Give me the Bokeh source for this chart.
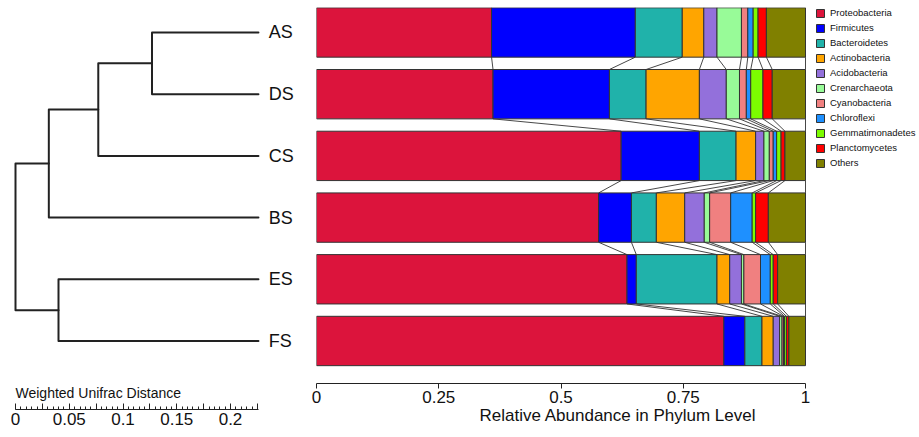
import numpy as np
from bokeh.plotting import figure
from bokeh.layouts import row
from bokeh.models import ColumnDataSource, FixedTicker, Range1d
from bokeh.embed import file_html
from bokeh.resources import INLINE
from bokeh.core.properties import value

# ---------------- data ----------------
samples = ["AS", "DS", "CS", "BS", "ES", "FS"]
phyla = ["Proteobacteria", "Firmicutes", "Bacteroidetes", "Actinobacteria",
         "Acidobacteria", "Crenarchaeota", "Cyanobacteria", "Chloroflexi",
         "Gemmatimonadetes", "Planctomycetes", "Others"]
colors = ["#DC143C", "#0000FF", "#20B2AA", "#FFA500", "#9370DB", "#98FB98",
          "#F08080", "#1E90FF", "#7CFC00", "#FF0000", "#808000"]

AS = [0.358, 0.294, 0.096, 0.044, 0.027, 0.050, 0.013, 0.011, 0.010, 0.017, 0.080]
DS = [0.361, 0.238, 0.075, 0.109, 0.055, 0.027, 0.014, 0.009, 0.025, 0.019, 0.068]
CS = [0.623, 0.160, 0.075, 0.040, 0.017, 0.011, 0.008, 0.007, 0.009, 0.008, 0.042]
BS = [0.577, 0.067, 0.051, 0.058, 0.040, 0.011, 0.043, 0.044, 0.007, 0.026, 0.076]
ES = [0.635, 0.019, 0.165, 0.026, 0.024, 0.005, 0.034, 0.020, 0.006, 0.009, 0.057]
FS = [0.833, 0.043, 0.035, 0.023, 0.013, 0.005, 0.003, 0.002, 0.004, 0.005, 0.034]
abund = [AS, DS, CS, BS, ES, FS]

# dendrogram (positions along the Weighted Unifrac Distance scale)
tree_nodes = ["AD", "ADC", "ADCB", "EF", "root"]
tree_left = ["AS", "AD", "ADC", "ES", "ADCB"]
tree_right = ["DS", "CS", "BS", "FS", "EF"]
tree_pos = [0.127, 0.077, 0.031, 0.040, 0.0]
leaf_pos = 0.226

scale_ticks = [0, 0.05, 0.1, 0.15, 0.2]
scale_labels = ["0", "0.05", "0.1", "0.15", "0.2"]
x_ticks = [0, 0.25, 0.5, 0.75, 1]
x_labels = ["0", "0.25", "0.5", "0.75", "1"]

# ---------------- layout constants ----------------
FONT = "Liberation Sans"
TXT = "#111111"
PX = 61.7          # pixels per row unit
YTOP = 5.405
TOP = 7
sample_y = [len(samples) - 1 - i for i in range(len(samples))]
ypos = dict(zip(samples, sample_y))

# ---------------- dendrogram figure ----------------
DSC = 1075.0
DW, DH = 308, 402
x0 = -15 / DSC
d = figure(frame_width=DW, frame_height=DH,
           x_range=Range1d(x0, x0 + DW / DSC),
           y_range=Range1d(YTOP - DH / PX, YTOP),
           output_backend="svg", toolbar_location=None,
           min_border=0, min_border_top=TOP, y_axis_location=None)
d.xgrid.visible = False
d.ygrid.visible = False
d.outline_line_color = None

xpos = {s: leaf_pos for s in samples}
for n, l, r, xp in zip(tree_nodes, tree_left, tree_right, tree_pos):
    xpos[n] = xp
    ypos[n] = (ypos[l] + ypos[r]) / 2.0
xs, ys = [], []
for n, l, r in zip(tree_nodes, tree_left, tree_right):
    xs.append([xpos[l], xpos[n], xpos[n], xpos[r]])
    ys.append([ypos[l], ypos[l], ypos[r], ypos[r]])
d.multi_line(xs=xs, ys=ys, line_color="#222222", line_width=2,
             line_join="round", line_cap="round")

d.text(x=[leaf_pos + 0.0095] * len(samples), y=sample_y, text=samples,
       text_font=value(FONT), text_font_size="18px", text_color=TXT,
       text_baseline="middle", text_align="left")
d.text(x=[0], y=[YTOP - (392 - TOP) / PX], text=["Weighted Unifrac Distance"],
       text_font=value(FONT), text_font_size="14px", text_color=TXT,
       text_baseline="middle", text_align="left")

ax = d.xaxis[0]
major = [round(i * 0.025, 3) for i in range(10)]
minor = [round(i * 0.005, 3) for i in range(46)]
ax.ticker = FixedTicker(ticks=major, minor_ticks=minor)
ov = {m: "" for m in major}
for t, lab in zip(scale_ticks, scale_labels):
    ov[t] = lab
ax.major_label_overrides = ov
ax.bounds = (0, leaf_pos)
ax.major_tick_in = 6
ax.major_tick_out = 0
ax.minor_tick_in = 3
ax.minor_tick_out = 0
ax.axis_line_color = "#222222"
ax.major_tick_line_color = "#222222"
ax.minor_tick_line_color = "#222222"
ax.major_label_text_font = FONT
ax.major_label_text_font_size = "17px"
ax.major_label_text_color = TXT
ax.major_label_standoff = 3

# ---------------- bar figure ----------------
BSC = 489.0
BW, BH = 603, 376
b = figure(frame_width=BW, frame_height=BH,
           x_range=Range1d(0, BW / BSC),
           y_range=Range1d(YTOP - BH / PX, YTOP),
           output_backend="svg", toolbar_location=None,
           min_border=0, min_border_left=8, min_border_top=TOP,
           y_axis_location=None)
b.xgrid.visible = False
b.ygrid.visible = False
b.outline_line_color = None

data = {"y": sample_y}
for j, ph in enumerate(phyla):
    data[ph] = [row_[j] for row_ in abund]
src = ColumnDataSource(data)
b.hbar_stack(phyla, y="y", height=0.8, color=colors, source=src,
             line_color="#333333", line_width=1,
             legend_label=phyla)

# connecting lines between adjacent bars
cum = np.cumsum(np.array(abund), axis=1)
sx0, sy0, sx1, sy1 = [], [], [], []
for k in range(len(samples) - 1):
    for j in range(len(phyla)):
        sx0.append(cum[k, j]); sy0.append(sample_y[k] - 0.4)
        sx1.append(cum[k + 1, j]); sy1.append(sample_y[k + 1] + 0.4)
b.segment(x0=sx0, y0=sy0, x1=sx1, y1=sy1, line_color="#333333", line_width=0.9)

bx = b.xaxis[0]
bx.ticker = FixedTicker(ticks=x_ticks, minor_ticks=[])
bx.major_label_overrides = {t: lab for t, lab in zip(x_ticks, x_labels)}
bx.bounds = (0, 1)
bx.major_tick_out = 5
bx.major_tick_in = 0
bx.axis_line_color = "#222222"
bx.major_tick_line_color = "#222222"
bx.major_label_text_font = FONT
bx.major_label_text_font_size = "17px"
bx.major_label_text_color = TXT
bx.major_label_standoff = 2
bx.axis_label = "Relative Abundance in Phylum Level"
bx.axis_label_text_font = FONT
bx.axis_label_text_font_size = "17px"
bx.axis_label_text_font_style = "normal"
bx.axis_label_text_color = TXT
bx.axis_label_standoff = 0

lg = b.legend[0]
lg.location = (499, 215)
lg.margin = 0
lg.padding = 0
lg.spacing = 4
lg.glyph_width = 10
lg.glyph_height = 10
lg.label_height = 10
lg.label_standoff = 5
lg.label_text_font = FONT
lg.label_text_font_size = "9.5px"
lg.label_text_color = TXT
lg.border_line_color = None
lg.background_fill_alpha = 0

p = row(d, b)
open("out.html", "w").write(file_html(p, INLINE))
